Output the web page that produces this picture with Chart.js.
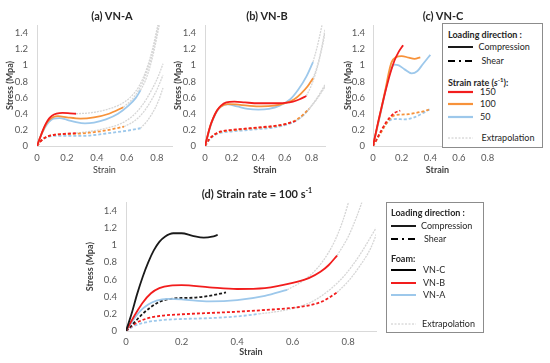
<!DOCTYPE html>
<html>
<head>
<meta charset="utf-8">
<script src="https://cdn.jsdelivr.net/npm/chart.js@4.4.1/dist/chart.umd.min.js"></script>
<style>
  body { margin: 0; background: #fff; font-family: Lato, sans-serif; }
  #wrap { position: relative; width: 550px; height: 363px; overflow: hidden; }
  canvas { position: absolute; }
  .ptitle { position: absolute; font: bold 11px Lato; color: #262626; white-space: nowrap; transform: translate(-50%, -50%); }
  .ptitle sup { font-size: 7px; }
  .legend { position: absolute; background: #fff; border: 1px solid #8c8c8c; font: 9px Lato; color: #262626; z-index: 5; }
  .legend .row { position: absolute; white-space: nowrap; transform: translateY(-50%); line-height: 12px; }
  .legend .head { font-weight: bold; }
  .legend sup { font-size: 6px; }
  .legend svg { position: absolute; overflow: visible; }
</style>
</head>
<body>
<div id="wrap">
  <canvas id="chartA" width="180" height="180" style="left:0;top:0"></canvas>
  <canvas id="chartB" width="165" height="180" style="left:168px;top:0"></canvas>
  <canvas id="chartC" width="172" height="180" style="left:338px;top:0"></canvas>
  <canvas id="chartD" width="304" height="187" style="left:80px;top:175px"></canvas>

  <div class="ptitle" style="left:112px;top:15px">(a) VN-A</div>
  <div class="ptitle" style="left:267px;top:15px">(b) VN-B</div>
  <div class="ptitle" style="left:443px;top:15px">(c) VN-C</div>
  <div class="ptitle" style="left:257px;top:193px">(d) Strain rate = 100 s<sup>-1</sup></div>

  <div class="legend" id="legC" style="left:442px;top:23px;width:99px;height:123px"></div>
  <div class="legend" id="legD" style="left:386px;top:202px;width:96px;height:129px"></div>
</div>

<script>
const xTicks = [0, 0.2, 0.4, 0.6, 0.8];
const yTicks = [0, 0.2, 0.4, 0.6, 0.8, 1, 1.2, 1.4];
const strainMax = 0.9;
const stressMax = 1.5;

// (a) VN-A
const aComp150 = [[0,0],[0.02,0.1],[0.04,0.2],[0.06,0.28],[0.08,0.34],[0.1,0.375],[0.13,0.4],[0.17,0.41],[0.22,0.405],[0.26,0.4]];
const aComp100 = [[0,0],[0.02,0.1],[0.04,0.19],[0.06,0.27],[0.08,0.32],[0.11,0.36],[0.14,0.37],[0.2,0.355],[0.29,0.34],[0.38,0.355],[0.48,0.4],[0.575,0.48]];
const aComp50 = [[0,0],[0.02,0.1],[0.05,0.22],[0.08,0.3],[0.11,0.34],[0.15,0.345],[0.2,0.325],[0.26,0.295],[0.32,0.28],[0.38,0.29],[0.46,0.33],[0.54,0.4],[0.61,0.5],[0.66,0.6],[0.69,0.69]];
const aShear150 = [[0,0],[0.02,0.05],[0.05,0.1],[0.08,0.125],[0.12,0.14],[0.18,0.15],[0.26,0.16]];
const aShear100 = [[0,0],[0.03,0.07],[0.06,0.11],[0.1,0.135],[0.15,0.145],[0.25,0.15],[0.35,0.165],[0.45,0.19],[0.58,0.24]];
const aShear50 = [[0,0],[0.03,0.07],[0.07,0.11],[0.12,0.125],[0.2,0.125],[0.3,0.125],[0.4,0.14],[0.5,0.165],[0.6,0.19],[0.69,0.22]];
const aExt150 = [[0.26,0.4],[0.35,0.41],[0.45,0.445],[0.55,0.51],[0.62,0.6],[0.68,0.74],[0.73,0.95],[0.77,1.2],[0.8,1.45],[0.82,1.6]];
const aExt100 = [[0.575,0.48],[0.63,0.57],[0.68,0.7],[0.72,0.86],[0.76,1.08],[0.79,1.32],[0.82,1.6]];
const aExt50 = [[0.69,0.69],[0.72,0.8],[0.75,0.96],[0.78,1.18],[0.81,1.45],[0.83,1.62]];
const aExtS150 = [[0.26,0.16],[0.35,0.18],[0.45,0.215],[0.55,0.27],[0.63,0.36],[0.7,0.5],[0.76,0.68],[0.81,0.87],[0.84,1.02]];
const aExtS100 = [[0.58,0.24],[0.65,0.31],[0.71,0.42],[0.76,0.56],[0.8,0.7],[0.84,0.88]];
const aExtS50 = [[0.69,0.22],[0.73,0.3],[0.77,0.41],[0.81,0.56],[0.84,0.72]];

// (b) VN-B
const bComp150 = [[0,0],[0.02,0.13],[0.04,0.25],[0.06,0.34],[0.09,0.44],[0.12,0.5],[0.16,0.54],[0.22,0.55],[0.3,0.54],[0.4,0.53],[0.5,0.53],[0.6,0.535],[0.66,0.55],[0.71,0.58],[0.76,0.62]];
const bComp100 = [[0,0],[0.02,0.13],[0.04,0.25],[0.06,0.34],[0.09,0.44],[0.12,0.49],[0.17,0.52],[0.23,0.515],[0.32,0.5],[0.42,0.49],[0.52,0.5],[0.6,0.53],[0.67,0.58],[0.72,0.65],[0.77,0.74],[0.81,0.84]];
const bComp50 = [[0,0],[0.02,0.12],[0.04,0.24],[0.06,0.33],[0.09,0.43],[0.12,0.49],[0.17,0.515],[0.24,0.49],[0.32,0.46],[0.4,0.45],[0.48,0.46],[0.56,0.5],[0.64,0.58],[0.7,0.7],[0.76,0.86],[0.81,1.04]];
const bShear150 = [[0,0],[0.03,0.08],[0.07,0.14],[0.12,0.18],[0.2,0.2],[0.3,0.215],[0.4,0.23],[0.5,0.245],[0.6,0.27],[0.68,0.31]];
const bShear100 = [[0,0],[0.03,0.08],[0.07,0.14],[0.12,0.175],[0.2,0.195],[0.3,0.21],[0.4,0.225],[0.5,0.24],[0.6,0.27],[0.7,0.34],[0.78,0.46]];
const bShear50 = [[0,0],[0.03,0.07],[0.07,0.13],[0.12,0.165],[0.2,0.18],[0.3,0.195],[0.4,0.21],[0.5,0.225],[0.6,0.26],[0.7,0.33],[0.77,0.44]];
const bExt150 = [[0.76,0.62],[0.8,0.76],[0.84,0.96],[0.87,1.16],[0.9,1.4],[0.92,1.6]];
const bExt100 = [[0.81,0.84],[0.84,0.98],[0.87,1.18],[0.9,1.44],[0.92,1.6]];
const bExt50 = [[0.81,1.04],[0.84,1.22],[0.87,1.44],[0.89,1.6]];
const bExtS150 = [[0.68,0.31],[0.74,0.38],[0.8,0.5],[0.85,0.62],[0.9,0.76]];
const bExtS100 = [[0.78,0.46],[0.84,0.59],[0.9,0.75]];
const bExtS50 = [[0.77,0.44],[0.83,0.56],[0.9,0.73]];

// (c) VN-C
const cComp150 = [[0,0],[0.03,0.25],[0.06,0.48],[0.09,0.7],[0.12,0.9],[0.15,1.06],[0.18,1.17],[0.21,1.25]];
const cComp100 = [[0,0],[0.03,0.24],[0.06,0.48],[0.09,0.73],[0.11,0.91],[0.13,1.04],[0.16,1.1],[0.2,1.115],[0.25,1.095],[0.29,1.08],[0.33,1.1]];
const cComp50 = [[0,0],[0.03,0.23],[0.06,0.46],[0.09,0.71],[0.12,0.92],[0.15,1.01],[0.18,1.0],[0.22,0.95],[0.27,0.9],[0.31,0.93],[0.35,1.02],[0.4,1.13]];
const cShear150 = [[0,0],[0.03,0.1],[0.06,0.2],[0.09,0.29],[0.12,0.36],[0.15,0.41],[0.19,0.44]];
const cShear100 = [[0,0],[0.03,0.09],[0.06,0.18],[0.09,0.27],[0.12,0.34],[0.15,0.38],[0.2,0.39],[0.25,0.395],[0.3,0.41],[0.35,0.43],[0.39,0.45]];
const cShear50 = [[0,0],[0.03,0.09],[0.06,0.19],[0.09,0.27],[0.12,0.32],[0.16,0.335],[0.22,0.33],[0.28,0.35],[0.34,0.4],[0.4,0.46]];

// (d) strain rate 100
const dCompC = [[0,0],[0.02,0.2],[0.04,0.43],[0.06,0.63],[0.08,0.8],[0.1,0.94],[0.12,1.04],[0.14,1.1],[0.17,1.14],[0.2,1.14],[0.24,1.11],[0.28,1.09],[0.31,1.1],[0.33,1.12]];
const dCompB = [[0,0],[0.02,0.12],[0.04,0.23],[0.06,0.33],[0.09,0.44],[0.12,0.5],[0.16,0.53],[0.2,0.535],[0.3,0.51],[0.4,0.49],[0.5,0.5],[0.6,0.56],[0.66,0.62],[0.7,0.69],[0.73,0.77],[0.76,0.88]];
const dCompA = [[0,0],[0.02,0.1],[0.04,0.19],[0.06,0.26],[0.08,0.31],[0.11,0.355],[0.15,0.375],[0.2,0.37],[0.3,0.345],[0.4,0.36],[0.5,0.41],[0.58,0.48]];
const dShearC = [[0,0],[0.03,0.1],[0.06,0.2],[0.09,0.28],[0.12,0.34],[0.16,0.375],[0.2,0.385],[0.25,0.39],[0.3,0.41],[0.36,0.45]];
const dShearB = [[0,0],[0.03,0.08],[0.07,0.14],[0.12,0.175],[0.2,0.195],[0.3,0.21],[0.4,0.225],[0.5,0.245],[0.6,0.27],[0.66,0.3],[0.71,0.35],[0.76,0.45]];
const dShearA = [[0,0],[0.03,0.06],[0.07,0.1],[0.12,0.125],[0.2,0.14],[0.3,0.15],[0.4,0.17],[0.48,0.2]];
const dExtB = [[0.76,0.88],[0.8,1.1],[0.83,1.33],[0.86,1.6]];
const dExtA = [[0.58,0.48],[0.63,0.57],[0.67,0.67],[0.71,0.82],[0.75,1.04],[0.78,1.28],[0.81,1.6]];
const dExtSB = [[0.76,0.45],[0.8,0.58],[0.84,0.75],[0.88,0.96],[0.91,1.2]];
const dExtSA = [[0.48,0.2],[0.55,0.23],[0.62,0.28],[0.68,0.36],[0.74,0.5],[0.79,0.66],[0.84,0.88],[0.9,1.2]];

const RED = "#f21d1d";
const ORANGE = "#f7923a";
const BLUE = "#9dc8eb";
const BLACK = "#1a1a1a";
const GRAY = "#d6d6d6";
const AXIS = "#d9d9d9";
const TICK = "#595959";
const TITLE = "#404040";

function line(data, color, kind) {
    return {
        data: data,
        showLine: true,
        borderColor: kind === "ext" ? GRAY : color,
        borderWidth: kind === "ext" ? 1.3 : 1.8,
        borderDash: kind === "shear" ? [3, 2] : (kind === "ext" ? [2, 1] : []),
        pointRadius: 0,
        cubicInterpolationMode: "monotone",
        fill: false
    };
}

function panel(id, box, datasets) {
    new Chart(document.getElementById(id), {
        type: "scatter",
        data: { datasets: datasets },
        options: {
            responsive: false,
            animation: false,
            events: [],
            layout: { padding: { top: box.top, right: 8, left: 0, bottom: 0 } },
            plugins: { legend: { display: false }, tooltip: { enabled: false } },
            scales: {
                x: {
                    type: "linear",
                    min: 0,
                    max: strainMax,
                    afterBuildTicks: function (s) { s.ticks = xTicks.map(v => ({ value: v })); },
                    afterFit: function (s) { s.height = box.xh; },
                    grid: { display: false, drawTicks: false },
                    border: { color: AXIS },
                    ticks: { color: TICK, font: { family: "Lato", size: 9.5 }, padding: box.xpad, maxRotation: 0, callback: v => String(v) },
                    title: {
                        display: true, text: "Strain", color: TITLE,
                        font: { family: "Lato", size: 9, weight: box.boldX ? "bold" : "normal" },
                        padding: { top: 0, bottom: 5 }
                    }
                },
                y: {
                    type: "linear",
                    min: 0,
                    max: stressMax,
                    afterBuildTicks: function (s) { s.ticks = yTicks.map(v => ({ value: v })); },
                    afterFit: function (s) { s.width = box.yw; },
                    grid: { display: false, drawTicks: false },
                    border: { color: AXIS },
                    ticks: { color: TICK, font: { family: "Lato", size: 9.5 }, padding: box.ypad, callback: v => String(v) },
                    title: {
                        display: true, text: "Stress (Mpa)", color: TITLE,
                        font: { family: "Lato", size: 9, weight: "bold" },
                        padding: { top: 4.6, bottom: 0 }
                    }
                }
            }
        }
    });
}

panel("chartA", { top: 25, yw: 37, xh: 34, xpad: 6, ypad: 9, boldX: false }, [
    line(aComp150, RED, "comp"), line(aComp100, ORANGE, "comp"), line(aComp50, BLUE, "comp"),
    line(aShear150, RED, "shear"), line(aShear100, ORANGE, "shear"), line(aShear50, BLUE, "shear"),
    line(aExt150, GRAY, "ext"), line(aExt100, GRAY, "ext"), line(aExt50, GRAY, "ext"),
    line(aExtS150, GRAY, "ext"), line(aExtS100, GRAY, "ext"), line(aExtS50, GRAY, "ext")
]);

panel("chartB", { top: 25, yw: 37, xh: 34, xpad: 6, ypad: 9, boldX: true }, [
    line(bComp150, RED, "comp"), line(bComp100, ORANGE, "comp"), line(bComp50, BLUE, "comp"),
    line(bShear150, RED, "shear"), line(bShear100, ORANGE, "shear"), line(bShear50, BLUE, "shear"),
    line(bExt150, GRAY, "ext"), line(bExt100, GRAY, "ext"), line(bExt50, GRAY, "ext"),
    line(bExtS150, GRAY, "ext"), line(bExtS100, GRAY, "ext"), line(bExtS50, GRAY, "ext")
]);

panel("chartC", { top: 25, yw: 35, xh: 34, xpad: 6, ypad: 8, boldX: true }, [
    line(cComp150, RED, "comp"), line(cComp100, ORANGE, "comp"), line(cComp50, BLUE, "comp"),
    line(cShear150, RED, "shear"), line(cShear100, ORANGE, "shear"), line(cShear50, BLUE, "shear")
]);

panel("chartD", { top: 27.4, yw: 46, xh: 31, xpad: 5, ypad: 9, boldX: true }, [
    line(dCompC, BLACK, "comp"), line(dCompB, RED, "comp"), line(dCompA, BLUE, "comp"),
    line(dShearC, BLACK, "shear"), line(dShearB, RED, "shear"), line(dShearA, BLUE, "shear"),
    line(dExtB, GRAY, "ext"), line(dExtA, GRAY, "ext"),
    line(dExtSB, GRAY, "ext"), line(dExtSA, GRAY, "ext")
]);

// legends
function sample(x, y, color, dash, width) {
    return '<svg style="left:' + x + 'px;top:' + (y - 2) + 'px" width="26" height="4">' +
        '<line x1="0" y1="2" x2="25" y2="2" stroke="' + color + '" stroke-width="' + width + '"' +
        (dash ? ' stroke-dasharray="' + dash + '"' : '') + '/></svg>';
}
function row(x, y, html, cls) {
    return '<div class="row' + (cls ? ' ' + cls : '') + '" style="left:' + x + 'px;top:' + y + 'px">' + html + '</div>';
}

document.getElementById("legC").innerHTML =
    row(5, 11, "Loading direction :", "head") +
    sample(5, 23, "#000", "", 1.8) + row(35.5, 23, "Compression") +
    sample(5, 37, "#000", "7,4,2,4", 1.8) + row(38.5, 37, "Shear") +
    row(5, 57, "Strain rate (<i>s</i><sup>-1</sup>):", "head") +
    sample(5, 68, RED, "", 2.2) + row(37, 68, "150") +
    sample(5, 80, ORANGE, "", 2.2) + row(37, 80, "100") +
    sample(5, 93, BLUE, "", 2.2) + row(37, 93, "50") +
    sample(5, 114, "#c8c8c8", "2,1.5", 1) + row(38.5, 114, "Extrapolation");

document.getElementById("legD").innerHTML =
    row(4, 10, "Loading direction :", "head") +
    sample(4, 23, "#000", "", 1.8) + row(34, 23, "Compression") +
    sample(4, 36, "#000", "7,4,2,4", 1.8) + row(37, 36, "Shear") +
    row(4, 56, "Foam:", "head") +
    sample(4, 67, "#000", "", 2) + row(36, 67, "VN-C") +
    sample(4, 80, RED, "", 2) + row(36, 80, "VN-B") +
    sample(4, 92, BLUE, "", 2) + row(36, 92, "VN-A") +
    sample(4, 121, "#c8c8c8", "2,1.5", 1) + row(35, 121, "Extrapolation");
</script>
</body>
</html>
